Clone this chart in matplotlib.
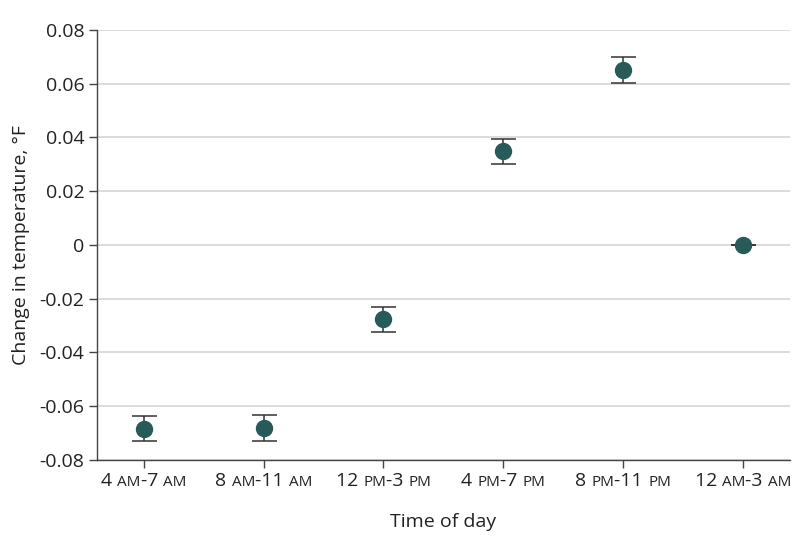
import re
import matplotlib
matplotlib.use("Agg")
import matplotlib.pyplot as plt
from matplotlib.offsetbox import TextArea, HPacker, AnnotationBbox

plt.rcParams['font.family'] = ['Open Sans', 'DejaVu Sans']

periods = ["4 AM-7 AM", "8 AM-11 AM", "12 PM-3 PM", "4 PM-7 PM", "8 PM-11 PM", "12 AM-3 AM"]
change = [-0.0683, -0.068, -0.0277, 0.0348, 0.065, 0.0]
err = [0.0048, 0.0048, 0.0048, 0.0048, 0.0048, 0.0]
yticks = [-0.08, -0.06, -0.04, -0.02, 0, 0.02, 0.04, 0.06, 0.08]

fig = plt.figure(figsize=(7.98, 5.45), dpi=100)
ax = fig.add_axes([0.1216, 0.156, 0.868, 0.789])

x = list(range(len(periods)))
ax.errorbar(x, change, yerr=err, fmt='none', ecolor='#333333', elinewidth=1.1,
            capsize=9, capthick=1.1, zorder=3)
ax.plot(x, change, 'o', color='#275a58', markersize=11.5, zorder=4)

ax.set_xlim(-0.39, 5.39)
ax.set_ylim(-0.08, 0.08)
ax.set_yticks(yticks)
ax.set_yticklabels(["0" if v == 0 else f"{v:.2f}" for v in yticks])
ax.yaxis.grid(True, color='#dcdcdc', linewidth=1.4)
ax.set_axisbelow(True)

ax.set_xticks(x)
ax.set_xticklabels([])
for s in ['top', 'right']:
    ax.spines[s].set_visible(False)
for s in ['left', 'bottom']:
    ax.spines[s].set_color('#444444')
    ax.spines[s].set_linewidth(1.0)
ax.tick_params(axis='both', direction='out', length=6, width=1.0, color='#444444',
               labelsize=14, labelcolor='#222222', pad=3)

# tick labels with small-caps AM/PM
for i, lab in enumerate(periods):
    parts = re.split(r'(AM|PM)', lab)
    boxes = []
    for p in parts:
        if not p:
            continue
        size = 11 if p in ("AM", "PM") else 14
        boxes.append(TextArea(p, textprops=dict(fontsize=size, color='#222222')))
    pack = HPacker(children=boxes, align="baseline", pad=0, sep=0)
    ab = AnnotationBbox(pack, (i, 0), xycoords=('data', 'axes fraction'),
                        xybox=(0, -9), boxcoords='offset points',
                        box_alignment=(0.5, 1), frameon=False, pad=0)
    ax.add_artist(ab)

ax.set_xlabel("Time of day", fontsize=14, color='#222222', labelpad=29)
ax.set_ylabel("Change in temperature, °F", fontsize=14, color='#222222', labelpad=7)

fig.savefig("out.png", dpi=100)
